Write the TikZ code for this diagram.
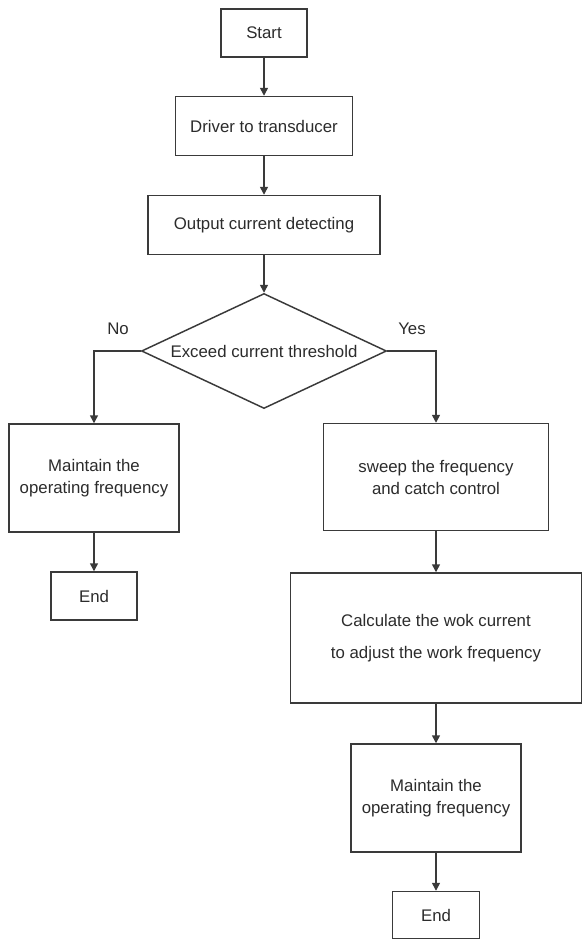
\documentclass[tikz,border=0pt]{standalone}
\usepackage{fontspec}
\setmainfont{Liberation Sans}
\usetikzlibrary{shapes.geometric,arrows.meta}
\definecolor{flowline}{HTML}{3A3A3A}
\definecolor{flowtext}{HTML}{2C2C2C}
\newcommand\flowfont{\fontsize{12.6}{16.5}\selectfont}
\begin{document}
\begin{tikzpicture}[
    x=0.75pt,y=-0.75pt,
    box/.style  = {rectangle,draw=flowline,line width=1.1pt,fill=white,text=flowtext,
                   align=center,inner sep=0pt,font=\flowfont},
    decide/.style = {diamond,aspect=2.13,draw=flowline,line width=1.1pt,fill=white,
                   text=flowtext,inner sep=0pt,font=\flowfont,
                   minimum width=183.75pt,minimum height=86.25pt},
    fl/.style   = {-{Triangle[length=6pt,width=6pt]},flowline,line width=1.1pt},
    tag/.style  = {font=\flowfont,text=flowtext},
  ]
  \useasboundingbox (0,0) rectangle (582,939);

  % main column
  \node[box,minimum width=64.5pt,minimum height=36pt]       (start) at (264,33)  {Start};
  \node[box,minimum width=132.75pt,minimum height=44.25pt]  (drv)   at (264,126) {Driver to transducer};
  \node[box,minimum width=174pt,minimum height=44.25pt]     (det)   at (264,225) {Output current detecting};
  \node[decide]                                             (dec)   at (264,351) {Exceed current threshold};

  % left branch
  \node[box,minimum width=127.5pt,minimum height=81pt]      (keepL) at (94,478)  {Maintain the\\operating frequency};
  \node[box,minimum width=64.5pt,minimum height=36pt]       (endL)  at (94,596)  {End};

  % right branch
  \node[box,minimum width=168.75pt,minimum height=80.25pt]  (sweep) at (436,477) {sweep the frequency\\and catch control};
  \node[box,minimum width=218.25pt,minimum height=97.5pt]   (calc)  at (436,638) {Calculate the wok current\\[8pt]to adjust the work frequency};
  \node[box,minimum width=127.5pt,minimum height=81pt]      (keepR) at (436,798) {Maintain the\\operating frequency};
  \node[box,minimum width=65.25pt,minimum height=35.25pt]   (endR)  at (436,915) {End};

  \node[tag] (no)  at (118,329) {No};
  \node[tag] (yes) at (412,329) {Yes};

  \foreach \a/\b in {start/drv,drv/det,det/dec,keepL/endL,sweep/calc,calc/keepR,keepR/endR}
    \draw[fl] (\a) -- (\b);
  \draw[fl] (dec.west) -| (keepL.north);
  \draw[fl] (dec.east) -| (sweep.north);

\end{tikzpicture}
\end{document}
